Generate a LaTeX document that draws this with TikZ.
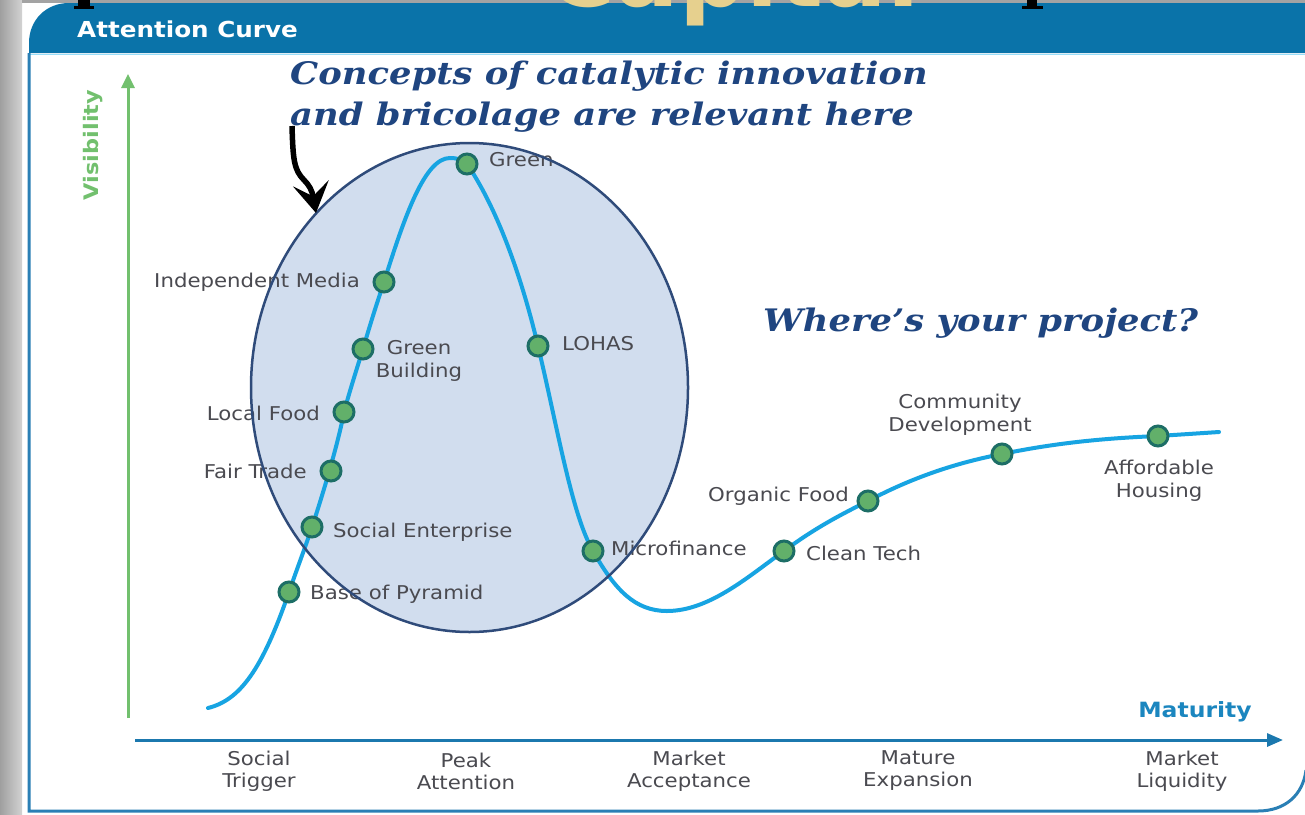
\documentclass[tikz,border=0pt]{standalone}
\usepackage{fontspec}
\usetikzlibrary{arrows.meta}
\newfontfamily\labfont[FakeStretch=1.12]{DejaVu Sans}
\newfontfamily\notefont[FakeStretch=1.14]{DejaVu Serif}
\newfontfamily\capfont{DejaVu Sans}
\definecolor{headblue}{HTML}{0A73A9}
\definecolor{frameblue}{HTML}{2A7FB5}
\definecolor{curvecyan}{HTML}{17A4E2}
\definecolor{dotfill}{HTML}{62B06A}
\definecolor{dotrim}{HTML}{1D6E66}
\definecolor{ovalfill}{HTML}{D1DDEE}
\definecolor{ovalrim}{HTML}{2F4B7A}
\definecolor{notecol}{HTML}{1F4580}
\definecolor{labgray}{HTML}{4A4A50}
\definecolor{axisgreen}{HTML}{72C06E}
\definecolor{axisblue}{HTML}{1B78AE}
\definecolor{matblue}{HTML}{1B86BF}
\definecolor{goldtxt}{HTML}{E6D08E}
\begin{document}
\begin{tikzpicture}[x=1pt,y=-1pt,
  lab/.style={text=labgray, font=\labfont\fontsize{19}{23}\selectfont, inner sep=0pt},
  stage/.style={text=labgray, font=\labfont\fontsize{19}{22}\selectfont, align=center, inner sep=0pt},
  dot/.style={circle, fill=dotfill, draw=dotrim, line width=3pt, minimum size=20pt, inner sep=0pt},
  note/.style={text=notecol, font=\notefont\bfseries\itshape\fontsize{31}{41}\selectfont, inner sep=0pt, align=left}]
\useasboundingbox (0,0) rectangle (1305,814);
% page background
\fill[white] (0,0) rectangle (1305,814);
\shade[left color=gray!75, right color=gray!35] (0,0) rectangle (22,814);
\fill[gray!80!black!60] (22,0) rectangle (1305,3);
% panel header
\fill[headblue] (29,53) -- (29,43) .. controls (29,20) and (46,3) .. (69,3) -- (1305,3) -- (1305,53) -- cycle;
\draw[cyan!40!white, line width=1pt] (29,54) -- (1305,54);
% golden heading above the panel
\node[text=goldtxt, anchor=base, font=\capfont\bfseries\fontsize{94}{94}\selectfont] (cap) at (733,6) {Capital};
\fill[black] (78,0) rectangle (90,6); \fill[black] (74,6) rectangle (94,9);
\fill[black] (1027,0) rectangle (1037,6); \fill[black] (1022,6) rectangle (1043,9);
\node[text=white, anchor=west, inner sep=0pt, font=\labfont\bfseries\fontsize{22}{26}\selectfont] (title) at (77,29) {Attention Curve};
% panel frame
\draw[frameblue, line width=3pt] (29,53) -- (29,811) -- (1258,811) .. controls (1285,811) and (1303,795) .. (1306,770);
% axes
\coordinate (ybot) at (128,718); \coordinate (ytop) at (128,74);
\draw[axisgreen, line width=3pt, -{Triangle[length=14pt,width=13pt]}] (ybot) -- (ytop);
\node[text=axisgreen, rotate=90, font=\labfont\bfseries\fontsize{20}{24}\selectfont, inner sep=0pt] (vis) at (93,145) {Visibility};
\coordinate (xleft) at (135,740); \coordinate (xright) at (1283,740);
\draw[axisblue, line width=3pt, -{Triangle[length=16pt,width=13pt]}] (xleft) -- (xright);
\node[text=matblue, font=\labfont\bfseries\fontsize{21}{24}\selectfont, inner sep=0pt] (mat) at (1195,712) {Maturity};
\node[stage] (s1) at (259,771) {Social\\Trigger};
\node[stage] (s2) at (466,771) {Peak\\Attention};
\node[stage] (s3) at (689,771) {Market\\Acceptance};
\node[stage] (s4) at (918,771) {Mature\\Expansion};
\node[stage] (s5) at (1182,771) {Market\\Liquidity};
% highlighted region
\fill[ovalfill] (469.5,387.5) ellipse [x radius=218.5, y radius=244.5];
% curve points
\coordinate (p0) at (208,708);
\coordinate (bop) at (289,592);
\coordinate (se) at (312,527);
\coordinate (ft) at (331,471);
\coordinate (lf) at (344,412);
\coordinate (gb) at (363,349);
\coordinate (im) at (384,282);
\coordinate (gr) at (467,164);
\coordinate (lo) at (538,346);
\coordinate (mf) at (593,551);
\coordinate (ct) at (784,551);
\coordinate (of) at (868,501);
\coordinate (cd) at (1002,454);
\coordinate (ah) at (1158,436);
\coordinate (pe) at (1219,432);
% attention curve
\draw[curvecyan, line width=4pt, line cap=round]
  (p0) .. controls (240,700) and (262,670) .. (bop)
  .. controls (298,566) and (305,548) .. (se)
  .. controls (320,503) and (338,445) .. (lf)
  .. controls (350,390) and (357,368) .. (gb)
  .. controls (372,318) and (378,300) .. (im)
  .. controls (405,215) and (425,158) .. (450,158)
  .. controls (458,158) and (462,160) .. (gr)
  .. controls (495,205) and (520,270) .. (lo)
  .. controls (558,430) and (572,515) .. (mf)
  .. controls (615,590) and (635,611) .. (667,611)
  .. controls (710,611) and (750,575) .. (ct)
  .. controls (815,528) and (840,515) .. (of)
  .. controls (915,476) and (960,462) .. (cd)
  .. controls (1060,442) and (1110,438) .. (ah)
  -- (pe);
% milestones
\foreach \p in {bop,se,ft,lf,gb,im,gr,lo,mf,ct,of,cd,ah} \node[dot] (d-\p) at (\p) {};
\node[lab, anchor=west] (t-gr) at (489,160) {Green};
\node[lab, anchor=east] (t-im) at (360,282) {Independent Media};
\node[lab, align=center] (t-gb) at (419,361) {Green\\Building};
\node[lab, anchor=east] (t-lf) at (320,413) {Local Food};
\node[lab, anchor=east] (t-ft) at (307,471) {Fair Trade};
\node[lab, anchor=west] (t-se) at (333,532) {Social Enterprise};
\node[lab, anchor=west] (t-bop) at (310,594) {Base of Pyramid};
\node[lab, anchor=west] (t-lo) at (562,344) {LOHAS};
\node[lab, anchor=west] (t-mf) at (611,548) {Microfinance};
\node[lab, anchor=west] (t-ct) at (806,553) {Clean Tech};
\node[lab, anchor=east] (t-of) at (849,496) {Organic Food};
\node[lab, align=center] (t-cd) at (960,415) {Community\\Development};
\node[lab, align=center] (t-ah) at (1159,481) {Affordable\\Housing};
% outline of the highlighted region
\draw[ovalrim, line width=2.5pt] (469.5,387.5) ellipse [x radius=218.5, y radius=244.5];
% annotations
\node[note, anchor=west] (note) at (290,97) {Concepts of catalytic innovation\\and bricolage are relevant here};
\node[note, anchor=west] (proj) at (763,323) {Where’s your project?};
\coordinate (ar0) at (292,126);
\coordinate (ar1) at (316,213);
\draw[black, line width=5.5pt, -{Stealth[length=30pt,width=36pt,inset=13pt]}] (ar0) .. controls (293,160) and (294,170) .. (304,180) .. controls (309,185) and (312,190) .. (ar1);
\end{tikzpicture}
\end{document}
